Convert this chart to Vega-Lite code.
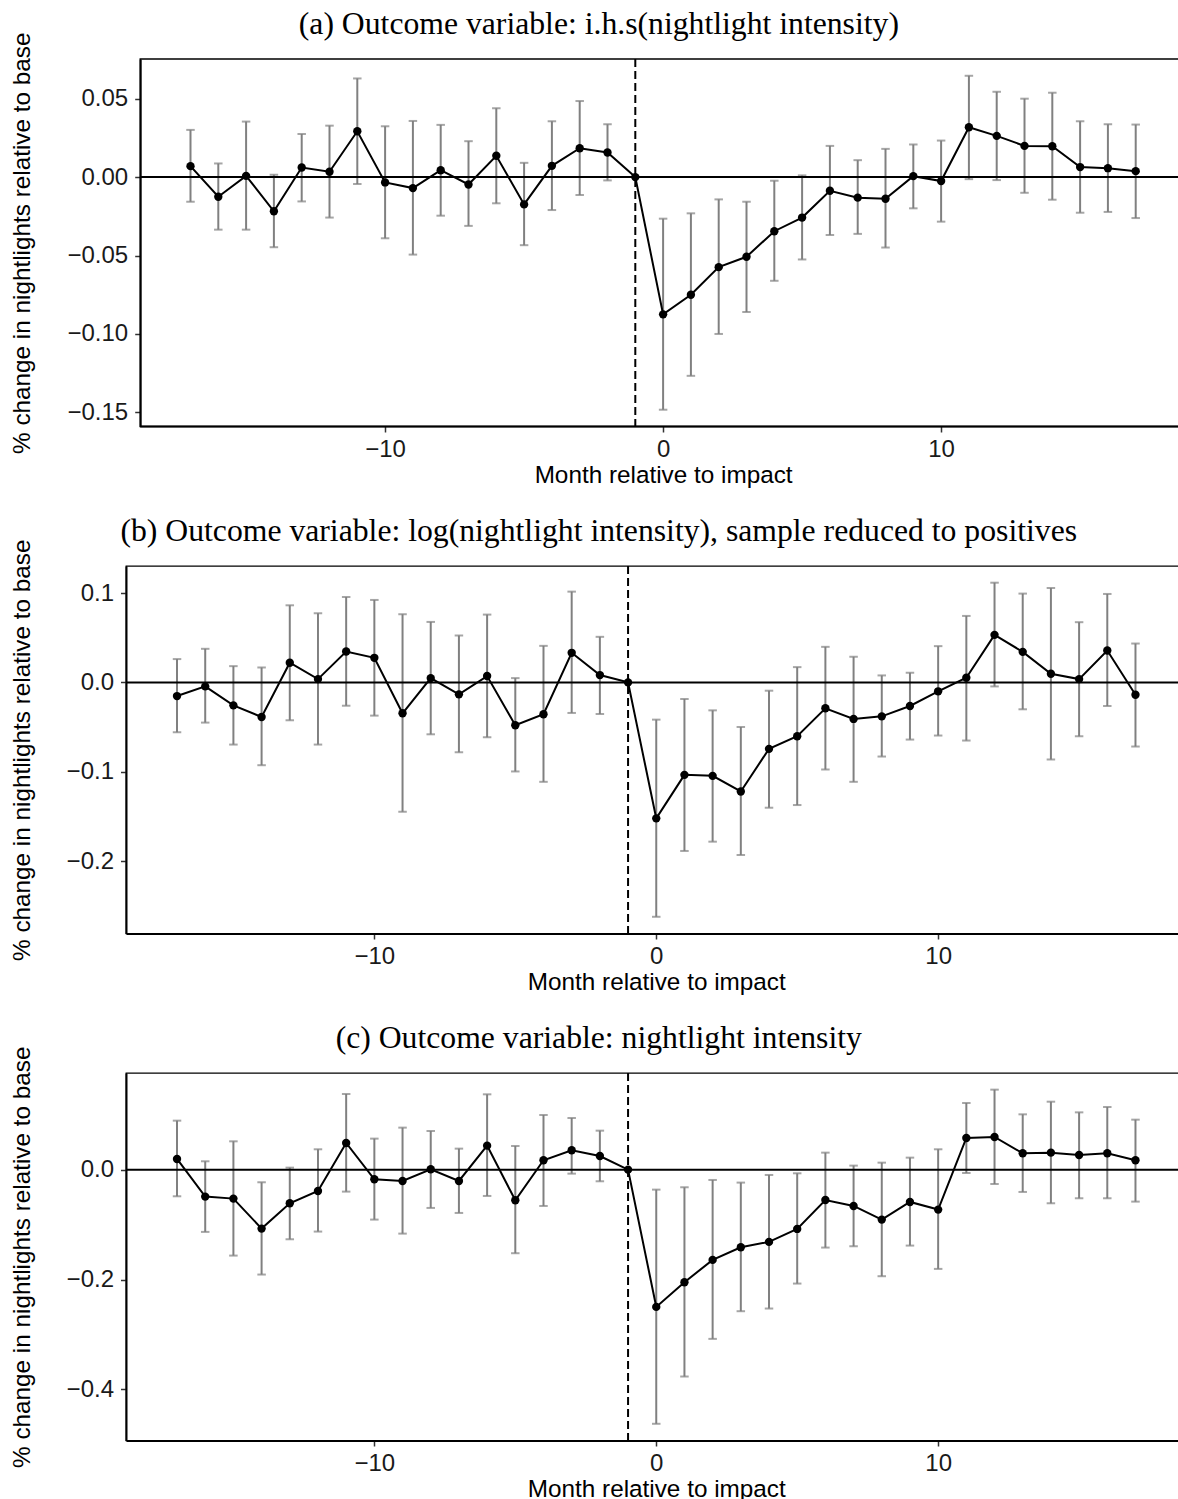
{
  "$schema": "https://vega.github.io/schema/vega-lite/v6.json",
  "padding": {"left": 9, "top": 9, "right": 0, "bottom": 0},
  "background": "white",
  "spacing": 27,
  "config": {
    "view": {"stroke": "black", "strokeWidth": 1.3},
    "title": {"font": "Liberation Serif", "fontSize": 31.7, "fontWeight": "normal", "color": "black", "baseline": "alphabetic", "offset": -9, "anchor": "middle", "frame": "bounds"},
    "axis": {"domainColor": "black", "domainWidth": 2, "tickColor": "#333333", "tickWidth": 1.5, "tickSize": 5.5, "labelFont": "Liberation Sans", "labelFontSize": 24, "labelColor": "#1a1a1a", "titleFont": "Liberation Sans", "titleFontSize": 24.3, "titleFontWeight": "normal", "titleColor": "black", "grid": false, "labelPadding": 5},
    "axisX": {"titlePadding": 2},
    "axisY": {"labelPadding": 7}
  },
  "datasets": {
    "a": [
      {"m": -17, "est": 0.0070, "lo": -0.0157, "hi": 0.0301},
      {"m": -16, "est": -0.0125, "lo": -0.0335, "hi": 0.0087},
      {"m": -15, "est": 0.0008, "lo": -0.0335, "hi": 0.0354},
      {"m": -14, "est": -0.0218, "lo": -0.0447, "hi": 0.0015},
      {"m": -13, "est": 0.0061, "lo": -0.0155, "hi": 0.0275},
      {"m": -12, "est": 0.0034, "lo": -0.0258, "hi": 0.0328},
      {"m": -11, "est": 0.0292, "lo": -0.0044, "hi": 0.0629},
      {"m": -10, "est": -0.0034, "lo": -0.0390, "hi": 0.0324},
      {"m": -9, "est": -0.0070, "lo": -0.0494, "hi": 0.0358},
      {"m": -8, "est": 0.0044, "lo": -0.0246, "hi": 0.0333},
      {"m": -7, "est": -0.0047, "lo": -0.0311, "hi": 0.0229},
      {"m": -6, "est": 0.0136, "lo": -0.0167, "hi": 0.0439},
      {"m": -5, "est": -0.0174, "lo": -0.0434, "hi": 0.0091},
      {"m": -4, "est": 0.0072, "lo": -0.0210, "hi": 0.0356},
      {"m": -3, "est": 0.0184, "lo": -0.0114, "hi": 0.0485},
      {"m": -2, "est": 0.0157, "lo": -0.0021, "hi": 0.0337},
      {"m": -1, "est": 0.0, "lo": null, "hi": null},
      {"m": 0, "est": -0.0875, "lo": -0.1483, "hi": -0.0265},
      {"m": 1, "est": -0.0750, "lo": -0.1267, "hi": -0.0231},
      {"m": 2, "est": -0.0574, "lo": -0.1000, "hi": -0.0142},
      {"m": 3, "est": -0.0508, "lo": -0.0860, "hi": -0.0157},
      {"m": 4, "est": -0.0345, "lo": -0.0661, "hi": -0.0023},
      {"m": 5, "est": -0.0258, "lo": -0.0525, "hi": 0.0011},
      {"m": 6, "est": -0.0087, "lo": -0.0369, "hi": 0.0199},
      {"m": 7, "est": -0.0131, "lo": -0.0362, "hi": 0.0108},
      {"m": 8, "est": -0.0138, "lo": -0.0449, "hi": 0.0180},
      {"m": 9, "est": 0.0006, "lo": -0.0199, "hi": 0.0208},
      {"m": 10, "est": -0.0025, "lo": -0.0284, "hi": 0.0233},
      {"m": 11, "est": 0.0318, "lo": -0.0013, "hi": 0.0646},
      {"m": 12, "est": 0.0263, "lo": -0.0019, "hi": 0.0544},
      {"m": 13, "est": 0.0199, "lo": -0.0100, "hi": 0.0500},
      {"m": 14, "est": 0.0197, "lo": -0.0144, "hi": 0.0538},
      {"m": 15, "est": 0.0064, "lo": -0.0227, "hi": 0.0356},
      {"m": 16, "est": 0.0057, "lo": -0.0222, "hi": 0.0337},
      {"m": 17, "est": 0.0038, "lo": -0.0261, "hi": 0.0335}
    ],
    "b": [
      {"m": -17, "est": -0.0153, "lo": -0.0558, "hi": 0.0261},
      {"m": -16, "est": -0.0045, "lo": -0.0450, "hi": 0.0376},
      {"m": -15, "est": -0.0257, "lo": -0.0696, "hi": 0.0182},
      {"m": -14, "est": -0.0387, "lo": -0.0927, "hi": 0.0167},
      {"m": -13, "est": 0.0220, "lo": -0.0424, "hi": 0.0863},
      {"m": -12, "est": 0.0037, "lo": -0.0696, "hi": 0.0774},
      {"m": -11, "est": 0.0346, "lo": -0.0261, "hi": 0.0956},
      {"m": -10, "est": 0.0275, "lo": -0.0372, "hi": 0.0923},
      {"m": -9, "est": -0.0346, "lo": -0.1448, "hi": 0.0763},
      {"m": -8, "est": 0.0048, "lo": -0.0581, "hi": 0.0677},
      {"m": -7, "est": -0.0134, "lo": -0.0782, "hi": 0.0525},
      {"m": -6, "est": 0.0071, "lo": -0.0614, "hi": 0.0759},
      {"m": -5, "est": -0.0480, "lo": -0.0997, "hi": 0.0048},
      {"m": -4, "est": -0.0357, "lo": -0.1113, "hi": 0.0409},
      {"m": -3, "est": 0.0331, "lo": -0.0342, "hi": 0.1016},
      {"m": -2, "est": 0.0082, "lo": -0.0354, "hi": 0.0510},
      {"m": -1, "est": 0.0, "lo": null, "hi": null},
      {"m": 0, "est": -0.1522, "lo": -0.2624, "hi": -0.0417},
      {"m": 1, "est": -0.1035, "lo": -0.1887, "hi": -0.0186},
      {"m": 2, "est": -0.1046, "lo": -0.1783, "hi": -0.0313},
      {"m": 3, "est": -0.1221, "lo": -0.1932, "hi": -0.0499},
      {"m": 4, "est": -0.0744, "lo": -0.1403, "hi": -0.0093},
      {"m": 5, "est": -0.0603, "lo": -0.1373, "hi": 0.0171},
      {"m": 6, "est": -0.0290, "lo": -0.0975, "hi": 0.0398},
      {"m": 7, "est": -0.0409, "lo": -0.1113, "hi": 0.0287},
      {"m": 8, "est": -0.0380, "lo": -0.0830, "hi": 0.0078},
      {"m": 9, "est": -0.0264, "lo": -0.0640, "hi": 0.0108},
      {"m": 10, "est": -0.0100, "lo": -0.0595, "hi": 0.0406},
      {"m": 11, "est": 0.0052, "lo": -0.0651, "hi": 0.0744},
      {"m": 12, "est": 0.0532, "lo": -0.0045, "hi": 0.1116},
      {"m": 13, "est": 0.0342, "lo": -0.0301, "hi": 0.0994},
      {"m": 14, "est": 0.0097, "lo": -0.0863, "hi": 0.1057},
      {"m": 15, "est": 0.0037, "lo": -0.0603, "hi": 0.0674},
      {"m": 16, "est": 0.0357, "lo": -0.0264, "hi": 0.0990},
      {"m": 17, "est": -0.0138, "lo": -0.0718, "hi": 0.0435}
    ],
    "c": [
      {"m": -17, "est": 0.0194, "lo": -0.0485, "hi": 0.0891},
      {"m": -16, "est": -0.0491, "lo": -0.1133, "hi": 0.0152},
      {"m": -15, "est": -0.0527, "lo": -0.1564, "hi": 0.0515},
      {"m": -14, "est": -0.1073, "lo": -0.1909, "hi": -0.0230},
      {"m": -13, "est": -0.0612, "lo": -0.1267, "hi": 0.0036},
      {"m": -12, "est": -0.0388, "lo": -0.1127, "hi": 0.0370},
      {"m": -11, "est": 0.0485, "lo": -0.0400, "hi": 0.1376},
      {"m": -10, "est": -0.0176, "lo": -0.0909, "hi": 0.0564},
      {"m": -9, "est": -0.0206, "lo": -0.1164, "hi": 0.0764},
      {"m": -8, "est": 0.0006, "lo": -0.0697, "hi": 0.0703},
      {"m": -7, "est": -0.0206, "lo": -0.0788, "hi": 0.0382},
      {"m": -6, "est": 0.0436, "lo": -0.0479, "hi": 0.1370},
      {"m": -5, "est": -0.0558, "lo": -0.1521, "hi": 0.0430},
      {"m": -4, "est": 0.0170, "lo": -0.0661, "hi": 0.0994},
      {"m": -3, "est": 0.0352, "lo": -0.0073, "hi": 0.0939},
      {"m": -2, "est": 0.0248, "lo": -0.0212, "hi": 0.0709},
      {"m": -1, "est": 0.0, "lo": null, "hi": null},
      {"m": 0, "est": -0.2497, "lo": -0.4624, "hi": -0.0364},
      {"m": 1, "est": -0.2048, "lo": -0.3764, "hi": -0.0321},
      {"m": 2, "est": -0.1642, "lo": -0.3079, "hi": -0.0188},
      {"m": 3, "est": -0.1412, "lo": -0.2576, "hi": -0.0236},
      {"m": 4, "est": -0.1315, "lo": -0.2527, "hi": -0.0097},
      {"m": 5, "est": -0.1079, "lo": -0.2073, "hi": -0.0067},
      {"m": 6, "est": -0.0552, "lo": -0.1418, "hi": 0.0309},
      {"m": 7, "est": -0.0661, "lo": -0.1394, "hi": 0.0073},
      {"m": 8, "est": -0.0909, "lo": -0.1939, "hi": 0.0127},
      {"m": 9, "est": -0.0588, "lo": -0.1382, "hi": 0.0218},
      {"m": 10, "est": -0.0727, "lo": -0.1806, "hi": 0.0370},
      {"m": 11, "est": 0.0576, "lo": -0.0061, "hi": 0.1212},
      {"m": 12, "est": 0.0594, "lo": -0.0261, "hi": 0.1455},
      {"m": 13, "est": 0.0297, "lo": -0.0406, "hi": 0.1006},
      {"m": 14, "est": 0.0309, "lo": -0.0612, "hi": 0.1236},
      {"m": 15, "est": 0.0267, "lo": -0.0521, "hi": 0.1042},
      {"m": 16, "est": 0.0297, "lo": -0.0521, "hi": 0.1139},
      {"m": 17, "est": 0.0170, "lo": -0.0582, "hi": 0.0909}
    ],
    "zero": [{"ref": 0}],
    "impact": [{"ref": -1}]
  },
  "vconcat": [
    {
      "title": "(a) Outcome variable: i.h.s(nightlight intensity)",
      "width": 1060.5, "height": 367.5,
      "view": {"stroke": null},
      "data": {"name": "a"},
      "layer": [
        {"data": {"name": "zero"}, "mark": {"type": "rect", "filled": false, "stroke": "black", "strokeWidth": 1.3},
         "encoding": {"x": {"datum": -18.81, "type": "quantitative", "title": "Month relative to impact", "scale": {"domain": [-19.32, 18.827], "nice": false, "zero": false}, "axis": {"values": [-10, 0, 10], "domain": false, "titleX": 537.1}},
                      "x2": {"datum": 18.827},
                      "y": {"datum": -0.159, "type": "quantitative", "title": "% change in nightlights relative to base", "scale": {"domain": [-0.159, 0.0753], "nice": false, "zero": false}, "axis": {"values": [-0.15, -0.1, -0.05, 0, 0.05], "format": ".2f", "minExtent": 100, "maxExtent": 100, "titlePadding": 6, "offset": -14.2}},
                      "y2": {"datum": 0.0753}}},
        {"data": {"name": "zero"}, "mark": {"type": "rule", "color": "black", "strokeWidth": 2},
         "encoding": {"x": {"datum": -18.81, "type": "quantitative", "title": "Month relative to impact"}, "x2": {"datum": 18.827}, "y": {"datum": -0.159, "type": "quantitative", "title": "% change in nightlights relative to base"}}},
        {"transform": [{"filter": {"field": "lo", "valid": true}}], "mark": {"type": "rule", "color": "#808080", "strokeWidth": 2},
         "encoding": {"x": {"field": "m", "type": "quantitative", "title": "Month relative to impact"},
                      "y": {"field": "lo", "type": "quantitative", "title": "% change in nightlights relative to base"},
                      "y2": {"field": "hi"}}},
        {"transform": [{"filter": {"field": "lo", "valid": true}}], "mark": {"type": "tick", "orient": "horizontal", "color": "#808080", "size": 8.5, "thickness": 2},
         "encoding": {"x": {"field": "m", "type": "quantitative", "title": "Month relative to impact"}, "y": {"field": "lo", "type": "quantitative", "title": "% change in nightlights relative to base"}}},
        {"transform": [{"filter": {"field": "hi", "valid": true}}], "mark": {"type": "tick", "orient": "horizontal", "color": "#808080", "size": 8.5, "thickness": 2},
         "encoding": {"x": {"field": "m", "type": "quantitative", "title": "Month relative to impact"}, "y": {"field": "hi", "type": "quantitative", "title": "% change in nightlights relative to base"}}},
        {"data": {"name": "zero"}, "mark": {"type": "rule", "color": "black", "strokeWidth": 2},
         "encoding": {"x": {"datum": -18.81, "type": "quantitative", "title": "Month relative to impact"}, "x2": {"datum": 18.827}, "y": {"field": "ref", "type": "quantitative", "title": "% change in nightlights relative to base"}}},
        {"data": {"name": "impact"}, "mark": {"type": "rule", "color": "black", "strokeWidth": 2, "strokeDash": [8, 4]},
         "encoding": {"x": {"field": "ref", "type": "quantitative", "title": "Month relative to impact"}}},
        {"mark": {"type": "line", "color": "black", "strokeWidth": 2},
         "encoding": {"x": {"field": "m", "type": "quantitative", "title": "Month relative to impact"}, "y": {"field": "est", "type": "quantitative", "title": "% change in nightlights relative to base"}}},
        {"mark": {"type": "circle", "color": "black", "size": 70, "opacity": 1},
         "encoding": {"x": {"field": "m", "type": "quantitative", "title": "Month relative to impact"}, "y": {"field": "est", "type": "quantitative", "title": "% change in nightlights relative to base"}}}
      ]
    },
    {
      "title": "(b) Outcome variable: log(nightlight intensity), sample reduced to positives",
      "width": 1060.5, "height": 367.5,
      "data": {"name": "b"},
      "layer": [
        {"transform": [{"filter": {"field": "lo", "valid": true}}], "mark": {"type": "rule", "color": "#808080", "strokeWidth": 2},
         "encoding": {"x": {"field": "m", "type": "quantitative", "title": "Month relative to impact", "scale": {"domain": [-18.81, 18.81], "nice": false, "zero": false}, "axis": {"values": [-10, 0, 10]}},
                      "y": {"field": "lo", "type": "quantitative", "title": "% change in nightlights relative to base", "scale": {"domain": [-0.2811, 0.1303], "nice": false, "zero": false}, "axis": {"values": [-0.2, -0.1, 0, 0.1], "format": ".1f", "minExtent": 86, "maxExtent": 86, "titlePadding": 6}},
                      "y2": {"field": "hi"}}},
        {"transform": [{"filter": {"field": "lo", "valid": true}}], "mark": {"type": "tick", "orient": "horizontal", "color": "#808080", "size": 8.5, "thickness": 2},
         "encoding": {"x": {"field": "m", "type": "quantitative", "title": "Month relative to impact"}, "y": {"field": "lo", "type": "quantitative", "title": "% change in nightlights relative to base"}}},
        {"transform": [{"filter": {"field": "hi", "valid": true}}], "mark": {"type": "tick", "orient": "horizontal", "color": "#808080", "size": 8.5, "thickness": 2},
         "encoding": {"x": {"field": "m", "type": "quantitative", "title": "Month relative to impact"}, "y": {"field": "hi", "type": "quantitative", "title": "% change in nightlights relative to base"}}},
        {"data": {"name": "zero"}, "mark": {"type": "rule", "color": "black", "strokeWidth": 2},
         "encoding": {"y": {"field": "ref", "type": "quantitative", "title": "% change in nightlights relative to base"}}},
        {"data": {"name": "impact"}, "mark": {"type": "rule", "color": "black", "strokeWidth": 2, "strokeDash": [8, 4]},
         "encoding": {"x": {"field": "ref", "type": "quantitative", "title": "Month relative to impact"}}},
        {"mark": {"type": "line", "color": "black", "strokeWidth": 2},
         "encoding": {"x": {"field": "m", "type": "quantitative", "title": "Month relative to impact"}, "y": {"field": "est", "type": "quantitative", "title": "% change in nightlights relative to base"}}},
        {"mark": {"type": "circle", "color": "black", "size": 70, "opacity": 1},
         "encoding": {"x": {"field": "m", "type": "quantitative", "title": "Month relative to impact"}, "y": {"field": "est", "type": "quantitative", "title": "% change in nightlights relative to base"}}}
      ]
    },
    {
      "title": "(c) Outcome variable: nightlight intensity",
      "width": 1060.5, "height": 367.5,
      "data": {"name": "c"},
      "layer": [
        {"transform": [{"filter": {"field": "lo", "valid": true}}], "mark": {"type": "rule", "color": "#808080", "strokeWidth": 2},
         "encoding": {"x": {"field": "m", "type": "quantitative", "title": "Month relative to impact", "scale": {"domain": [-18.81, 18.81], "nice": false, "zero": false}, "axis": {"values": [-10, 0, 10]}},
                      "y": {"field": "lo", "type": "quantitative", "title": "% change in nightlights relative to base", "scale": {"domain": [-0.4928, 0.1758], "nice": false, "zero": false}, "axis": {"values": [-0.4, -0.2, 0], "format": ".1f", "minExtent": 86, "maxExtent": 86, "titlePadding": 6}},
                      "y2": {"field": "hi"}}},
        {"transform": [{"filter": {"field": "lo", "valid": true}}], "mark": {"type": "tick", "orient": "horizontal", "color": "#808080", "size": 8.5, "thickness": 2},
         "encoding": {"x": {"field": "m", "type": "quantitative", "title": "Month relative to impact"}, "y": {"field": "lo", "type": "quantitative", "title": "% change in nightlights relative to base"}}},
        {"transform": [{"filter": {"field": "hi", "valid": true}}], "mark": {"type": "tick", "orient": "horizontal", "color": "#808080", "size": 8.5, "thickness": 2},
         "encoding": {"x": {"field": "m", "type": "quantitative", "title": "Month relative to impact"}, "y": {"field": "hi", "type": "quantitative", "title": "% change in nightlights relative to base"}}},
        {"data": {"name": "zero"}, "mark": {"type": "rule", "color": "black", "strokeWidth": 2},
         "encoding": {"y": {"field": "ref", "type": "quantitative", "title": "% change in nightlights relative to base"}}},
        {"data": {"name": "impact"}, "mark": {"type": "rule", "color": "black", "strokeWidth": 2, "strokeDash": [8, 4]},
         "encoding": {"x": {"field": "ref", "type": "quantitative", "title": "Month relative to impact"}}},
        {"mark": {"type": "line", "color": "black", "strokeWidth": 2},
         "encoding": {"x": {"field": "m", "type": "quantitative", "title": "Month relative to impact"}, "y": {"field": "est", "type": "quantitative", "title": "% change in nightlights relative to base"}}},
        {"mark": {"type": "circle", "color": "black", "size": 70, "opacity": 1},
         "encoding": {"x": {"field": "m", "type": "quantitative", "title": "Month relative to impact"}, "y": {"field": "est", "type": "quantitative", "title": "% change in nightlights relative to base"}}}
      ]
    }
  ]
}
